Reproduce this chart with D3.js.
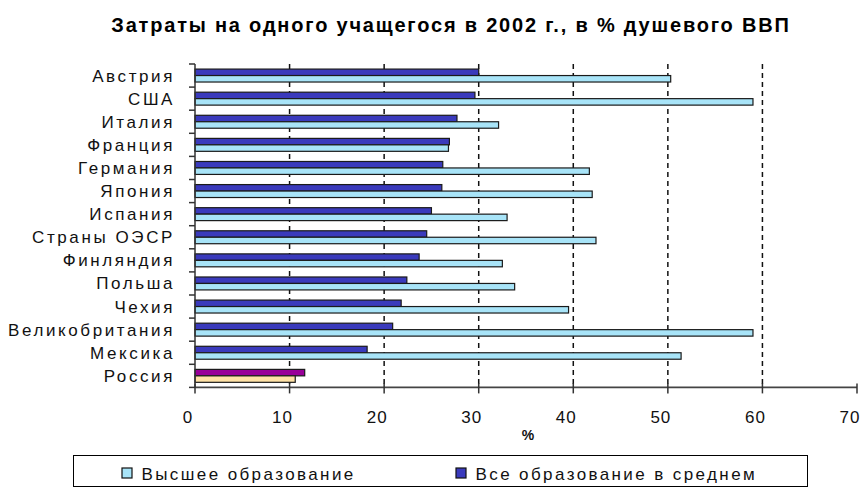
<!DOCTYPE html>
<html>
<head>
<meta charset="utf-8">
<script src="https://cdn.jsdelivr.net/npm/d3@7/dist/d3.min.js"></script>
<style>
  html, body { margin: 0; padding: 0; background: #fff; }
  svg { display: block; }
</style>
</head>
<body>
<svg id="chart" width="862" height="488"></svg>
<script>
const title = "Затраты на одного учащегося в 2002 г., в % душевого ВВП";
const categories = ["Австрия","США","Италия","Франция","Германия","Япония","Испания","Страны ОЭСР","Финляндия","Польша","Чехия","Великобритания","Мексика","Россия"];
const higherEdu = [50.3, 59.0, 32.1, 26.8, 41.7, 42.0, 33.0, 42.4, 32.5, 33.8, 39.5, 59.0, 51.4, 10.6];
const allEdu    = [30.0, 29.6, 27.7, 26.9, 26.2, 26.1, 25.0, 24.5, 23.7, 22.4, 21.8, 20.9, 18.2, 11.6];
const seriesNames = ["Высшее образование", "Все образование в среднем"];
const xTicks = [0, 10, 20, 30, 40, 50, 60, 70];
const gridTicks = [10, 20, 30, 40, 50, 60];
const xAxisTitle = "%";
const highlightCategory = "Россия";

const colors = { higher: "#a8e4f8", all: "#3a3abc", higherHi: "#ffe2a6", allHi: "#990099" };
const FONT = "'Liberation Sans', Arial, sans-serif";

const svg = d3.select("#chart");
const plot = { left: 195, right: 857, top: 64, bottom: 387.4 };

const x = d3.scaleLinear().domain([0, 70]).range([plot.left, plot.right]);
const y0 = d3.scaleBand().domain(categories).range([plot.top, plot.bottom]).paddingInner(0.44).paddingOuter(0.22);
const y1 = d3.scaleBand().domain(["all", "higher"]).range([0, y0.bandwidth()]);

// Title
svg.append("text")
  .attr("x", 451).attr("y", 32)
  .attr("text-anchor", "middle")
  .attr("font-family", FONT)
  .attr("font-weight", "bold")
  .attr("font-size", 20)
  .attr("letter-spacing", 1.8)
  .attr("fill", "#000")
  .text(title);

// Dashed gridlines
svg.append("g").selectAll("line").data(gridTicks).join("line")
  .attr("x1", d => x(d)).attr("x2", d => x(d))
  .attr("y1", plot.top).attr("y2", plot.bottom)
  .attr("stroke", "#111").attr("stroke-width", 1.5)
  .attr("stroke-dasharray", "5,4");

// Bars
const rows = categories.map((c, i) => ({ c, all: allEdu[i], higher: higherEdu[i] }));
const g = svg.append("g");
rows.forEach(r => {
  const hi = r.c === highlightCategory;
  [["all", r.all], ["higher", r.higher]].forEach(([k, v]) => {
    g.append("rect")
      .attr("x", x(0))
      .attr("y", y0(r.c) + y1(k))
      .attr("width", x(v) - x(0))
      .attr("height", y1.bandwidth())
      .attr("fill", hi ? colors[k + "Hi"] : colors[k])
      .attr("stroke", "#1a1a1a")
      .attr("stroke-width", 1.2);
  });
});

// Y axis
const yAxis = svg.append("g");
yAxis.append("line")
  .attr("x1", plot.left).attr("x2", plot.left)
  .attr("y1", plot.top).attr("y2", plot.bottom)
  .attr("stroke", "#333").attr("stroke-width", 1.5);
const boundaries = categories.map(c => y0(c) - y0.step() * y0.paddingOuter());
boundaries.push(plot.bottom);
yAxis.selectAll("line.tick").data(boundaries).join("line")
  .attr("class", "tick")
  .attr("x1", plot.left - 6).attr("x2", plot.left)
  .attr("y1", d => d).attr("y2", d => d)
  .attr("stroke", "#333").attr("stroke-width", 1.5);
yAxis.selectAll("text").data(categories).join("text")
  .attr("x", 175)
  .attr("y", d => y0(d) + y0.bandwidth() / 2 + 6)
  .attr("text-anchor", "end")
  .attr("font-family", FONT)
  .attr("font-size", 17)
  .attr("letter-spacing", 2.6)
  .attr("fill", "#111")
  .text(d => d);

// X axis
const xAxis = svg.append("g");
xAxis.append("line")
  .attr("x1", plot.left).attr("x2", plot.right)
  .attr("y1", plot.bottom).attr("y2", plot.bottom)
  .attr("stroke", "#444").attr("stroke-width", 1.6);
xAxis.selectAll("line.tick").data(xTicks).join("line")
  .attr("class", "tick")
  .attr("x1", d => x(d)).attr("x2", d => x(d))
  .attr("y1", plot.bottom - 4).attr("y2", plot.bottom + 6)
  .attr("stroke", "#333").attr("stroke-width", 1.5);
xAxis.selectAll("text").data(xTicks).join("text")
  .attr("x", d => x(d) - 7)
  .attr("y", 423)
  .attr("text-anchor", "middle")
  .attr("font-family", FONT)
  .attr("font-size", 17)
  .attr("letter-spacing", 1)
  .attr("fill", "#111")
  .text(d => d);
svg.append("text")
  .attr("x", 528).attr("y", 440)
  .attr("text-anchor", "middle")
  .attr("font-family", FONT)
  .attr("font-weight", "bold")
  .attr("font-size", 14)
  .attr("fill", "#111")
  .text(xAxisTitle);

// Legend
const legend = svg.append("g");
legend.append("rect")
  .attr("x", 73.5).attr("y", 455.5).attr("width", 734).attr("height", 31)
  .attr("fill", "#fff").attr("stroke", "#000").attr("stroke-width", 1);
const legendItems = [
  { name: seriesNames[0], color: colors.higher, x: 122 },
  { name: seriesNames[1], color: colors.all, x: 456 }
];
legendItems.forEach(it => {
  legend.append("rect")
    .attr("x", it.x).attr("y", 468).attr("width", 10).attr("height", 10)
    .attr("fill", it.color).attr("stroke", "#111").attr("stroke-width", 1.2);
  legend.append("text")
    .attr("x", it.x + 19.5).attr("y", 479.5)
    .attr("font-family", FONT)
    .attr("font-size", 17)
    .attr("letter-spacing", 2.4)
    .attr("fill", "#111")
    .text(it.name);
});
</script>
</body>
</html>
